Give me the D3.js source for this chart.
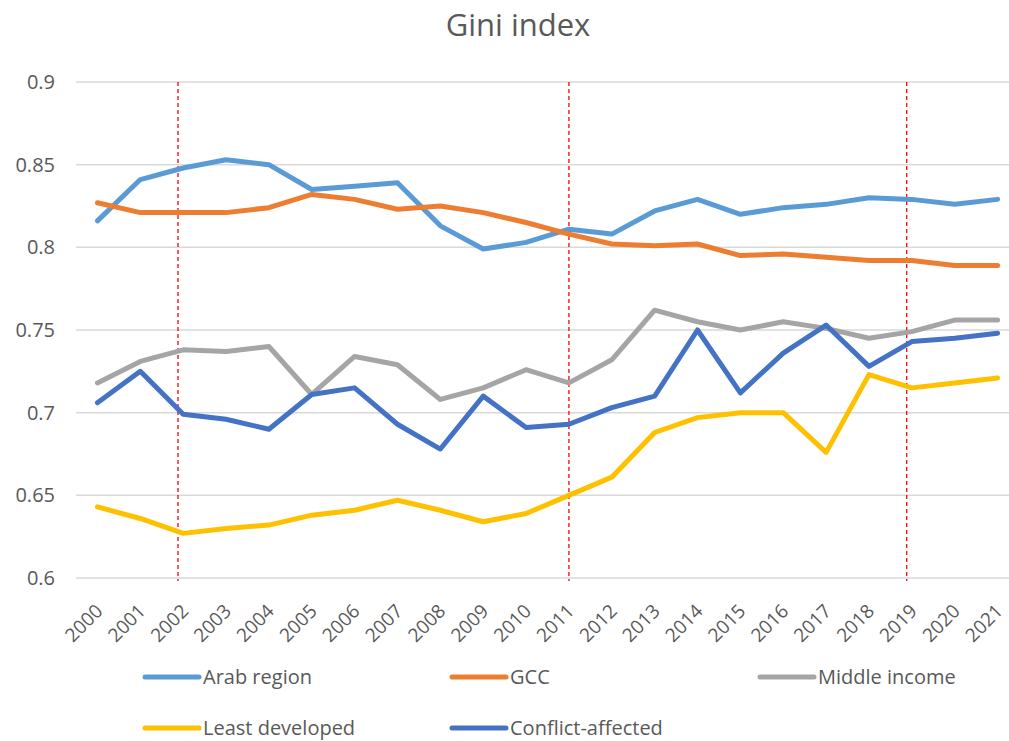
<!DOCTYPE html>
<html>
<head>
<meta charset="utf-8">
<script src="https://cdn.jsdelivr.net/npm/d3@7"></script>
<style>
	body { margin: 0; background: #fff; }
	text { font-family: 'Open Sans', sans-serif; fill: #595959; }
</style>
</head>
<body>
<div id="chart"></div>
<script>
const years = ['2000', '2001', '2002', '2003', '2004', '2005', '2006', '2007', '2008', '2009', '2010',
	'2011', '2012', '2013', '2014', '2015', '2016', '2017', '2018', '2019', '2020', '2021'];

const arabRegion = [0.816, 0.841, 0.848, 0.853, 0.850, 0.835, 0.837, 0.839, 0.813, 0.799, 0.803,
	0.811, 0.808, 0.822, 0.829, 0.820, 0.824, 0.826, 0.830, 0.829, 0.826, 0.829];
const gcc = [0.827, 0.821, 0.821, 0.821, 0.824, 0.832, 0.829, 0.823, 0.825, 0.821, 0.815,
	0.808, 0.802, 0.801, 0.802, 0.795, 0.796, 0.794, 0.792, 0.792, 0.789, 0.789];
const middleIncome = [0.718, 0.731, 0.738, 0.737, 0.740, 0.711, 0.734, 0.729, 0.708, 0.715, 0.726,
	0.718, 0.732, 0.762, 0.755, 0.750, 0.755, 0.751, 0.745, 0.749, 0.756, 0.756];
const leastDeveloped = [0.643, 0.636, 0.627, 0.630, 0.632, 0.638, 0.641, 0.647, 0.641, 0.634, 0.639,
	0.650, 0.661, 0.688, 0.697, 0.700, 0.700, 0.676, 0.723, 0.715, 0.718, 0.721];
const conflictAffected = [0.706, 0.725, 0.699, 0.696, 0.690, 0.711, 0.715, 0.693, 0.678, 0.710, 0.691,
	0.693, 0.703, 0.710, 0.750, 0.712, 0.736, 0.753, 0.728, 0.743, 0.745, 0.748];

const seriesNames = ['Arab region', 'GCC', 'Middle income', 'Least developed', 'Conflict-affected'];
const seriesColors = ['#5B9BD5', '#ED7D31', '#A5A5A5', '#FFC000', '#4472C4'];
const yTicks = [0.6, 0.65, 0.7, 0.75, 0.8, 0.85, 0.9];
// red dashed markers, given as (slightly fractional) year positions
const markerYears = [2001.88, 2011, 2018.88];

const W = 1009, H = 741;
const M = { left: 76, right: -10, top: 82, bottom: 163 };

const svg = d3.select('#chart').append('svg')
	.attr('width', W)
	.attr('height', H);

svg.append('text')
	.text('Gini index')
	.attr('x', 518)
	.attr('y', 36)
	.attr('text-anchor', 'middle')
	.style('font-size', '31px');

const x = d3.scaleBand()
	.domain(years)
	.range([M.left, W - M.right]);

const xYear = function(v) {
	return x(years[0]) + x.bandwidth() / 2 + (v - +years[0]) * x.step();
};

const y = d3.scaleLinear()
	.domain([0.6, 0.9])
	.range([H - M.bottom, M.top]);

// gridlines
svg.append('g')
	.selectAll('line')
	.data(yTicks)
	.join('line')
		.attr('x1', M.left)
		.attr('x2', W - M.right)
		.attr('y1', d => y(d))
		.attr('y2', d => y(d))
		.attr('stroke', '#D9D9D9')
		.attr('stroke-width', 1.5);

// y axis labels
const axisY = d3.axisLeft(y)
	.tickValues(yTicks)
	.tickFormat(d => String(+d.toFixed(2)))
	.tickSize(0)
	.tickPadding(21);

svg.append('g')
	.attr('transform', `translate(${M.left},0)`)
	.call(axisY)
	.call(g => g.select('.domain').remove())
	.call(g => g.selectAll('text')
		.style('font-size', '20px')
		.style('font-family', "'Open Sans', sans-serif")
		.attr('fill', '#595959'));

// x axis labels, rotated
svg.append('g')
	.selectAll('text')
	.data(years)
	.join('text')
		.text(d => d)
		.attr('text-anchor', 'end')
		.attr('transform', d => `translate(${x(d) + x.bandwidth() / 2 - 3},${H - M.bottom + 25}) rotate(-45)`)
		.attr('dy', '0.7em')
		.style('font-size', '19px');

// red dashed markers
svg.append('g')
	.selectAll('line')
	.data(markerYears)
	.join('line')
		.attr('x1', d => xYear(d))
		.attr('x2', d => xYear(d))
		.attr('y1', y(0.9))
		.attr('y2', y(0.6) + 3)
		.attr('stroke', '#FF0000')
		.attr('stroke-width', 1.3)
		.attr('stroke-dasharray', '4,3');

const seriesValues = [arabRegion, gcc, middleIncome, leastDeveloped, conflictAffected];

const line = d3.line()
	.x((d, i) => x(years[i]) + x.bandwidth() / 2)
	.y(d => y(d));

svg.append('g')
	.selectAll('path')
	.data(seriesValues)
	.join('path')
		.attr('d', d => line(d))
		.attr('fill', 'none')
		.attr('stroke', (d, i) => seriesColors[i])
		.attr('stroke-width', 5)
		.attr('stroke-linejoin', 'round')
		.attr('stroke-linecap', 'round');

// legend
const legendPos = [[145, 677], [452, 677], [760, 677], [145, 728], [452, 728]];

const legend = svg.append('g')
	.selectAll('g')
	.data(seriesNames)
	.join('g')
		.attr('transform', (d, i) => `translate(${legendPos[i][0]},${legendPos[i][1]})`);

legend.append('line')
	.attr('x1', 0)
	.attr('x2', 54)
	.attr('stroke', (d, i) => seriesColors[i])
	.attr('stroke-width', 5)
	.attr('stroke-linecap', 'round');

legend.append('text')
	.text(d => d)
	.attr('x', 58)
	.attr('dy', '0.35em')
	.style('font-size', '20px');
</script>
</body>
</html>
